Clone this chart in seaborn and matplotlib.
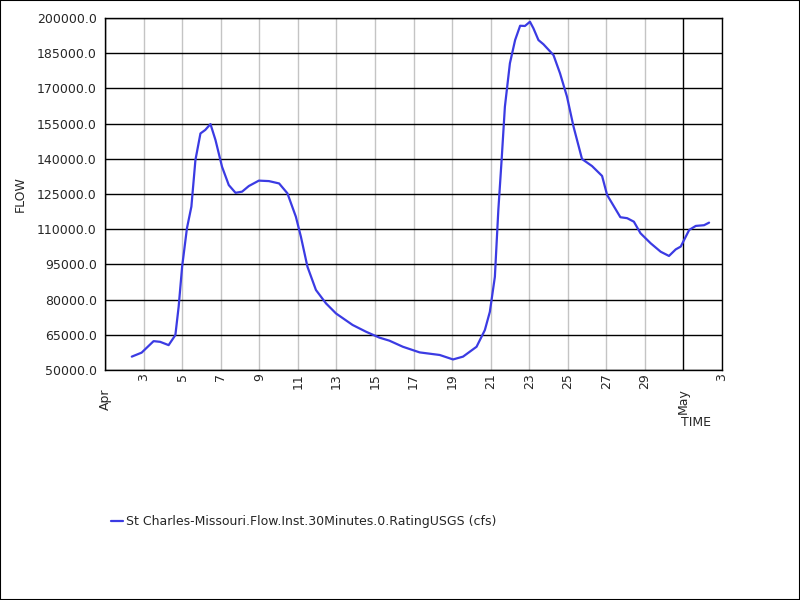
import pandas as pd
import seaborn as sns
import matplotlib
import matplotlib.pyplot as plt
from matplotlib.patches import Rectangle
from matplotlib.ticker import FuncFormatter

matplotlib.use("Agg")

START = "2011-04-01"
SERIES_NAME = "St Charles-Missouri.Flow.Inst.30Minutes.0.RatingUSGS (cfs)"
FONT_SIZE = 9

# days after Apr 1 00:00
day_offset = [1.39, 1.9, 2.52, 2.86, 3.3, 3.65, 3.82, 4.0, 4.25, 4.48, 4.69, 4.95,
              5.2, 5.47, 5.73, 6.07, 6.42, 6.77, 7.11, 7.46, 7.98, 8.5, 9.03, 9.46,
              9.9, 10.16, 10.5, 10.94, 11.46, 11.98, 12.84, 13.54, 14.23, 14.75,
              15.45, 16.32, 17.36, 18.05, 18.57, 18.92, 19.27, 19.7, 19.96, 20.22,
              20.4, 20.57, 20.74, 21.0, 21.27, 21.53, 21.78, 22.04, 22.22, 22.48,
              22.74, 23.26, 23.6, 23.96, 24.3, 24.74, 25.26, 25.78, 26.04, 26.73,
              27.08, 27.43, 27.77, 28.3, 28.82, 29.25, 29.6, 29.86, 30.12, 30.3,
              30.64, 31.07, 31.33]
flow = [55700, 57400, 62300, 62000, 60600, 64900, 77000, 94000, 110400, 119600,
        139500, 150800, 152300, 154800, 148000, 136600, 128800, 125500, 126000,
        128400, 130700, 130500, 129500, 125300, 115300, 106800, 94000, 84100,
        78400, 74100, 69200, 66300, 63800, 62500, 59900, 57500, 56400, 54500,
        55700, 57800, 59900, 67000, 74800, 89700, 118200, 139500, 162200, 180700,
        190600, 196700, 196600, 198400, 195600, 190600, 188800, 184200, 176400,
        166500, 153700, 139900, 136900, 132700, 124600, 115100, 114700, 113200,
        108300, 104000, 100400, 98600, 101400, 102600, 106800, 109700, 111400,
        111700, 112800]

y_ticks = list(range(50000, 200001, 15000))
day_ticks = ["2011-04-03", "2011-04-05", "2011-04-07", "2011-04-09", "2011-04-11",
             "2011-04-13", "2011-04-15", "2011-04-17", "2011-04-19", "2011-04-21",
             "2011-04-23", "2011-04-25", "2011-04-27", "2011-04-29", "2011-05-03"]
month_ticks = ["2011-04-01", "2011-05-01"]
month_labels = ["Apr", "May"]


def get_df():
    df = pd.DataFrame({"offset": day_offset, "flow": flow})
    df["time"] = pd.Timestamp(START) + pd.to_timedelta(df["offset"], unit="D")
    return df


def plot_graph(df):
    sns.set_style("white")
    plt.rcParams["font.family"] = ["DejaVu Sans"]
    fig = plt.figure(figsize=(8, 6), dpi=100)
    ax = fig.add_axes([105 / 800, 1 - 370 / 600, 617 / 800, 352 / 600])

    sns.lineplot(data=df, x="time", y="flow", ax=ax, color="#3b3be3",
                 linewidth=1.6, label=SERIES_NAME, legend=False)

    ax.set_xlim(pd.Timestamp("2011-04-01"), pd.Timestamp("2011-05-03"))
    ax.set_ylim(50000, 200000)
    ax.set_yticks(y_ticks)
    ax.yaxis.set_major_formatter(FuncFormatter(lambda v, p: f"{v:.1f}"))

    days = pd.to_datetime(day_ticks)
    ax.set_xticks(days)
    ax.set_xticklabels([str(d.day) for d in days], rotation=90)
    months = pd.to_datetime(month_ticks)
    ax.set_xticks(months, minor=True)
    ax.set_xticklabels(month_labels, minor=True, rotation=90)

    ax.tick_params(axis="x", which="major", length=0, pad=2, labelsize=FONT_SIZE)
    ax.tick_params(axis="x", which="minor", length=12.5, width=1, color="black",
                   pad=0.5, labelsize=FONT_SIZE)
    ax.tick_params(axis="y", length=5, width=1, color="black", pad=1,
                   labelsize=FONT_SIZE)
    ax.xaxis.get_minor_ticks()[0].tick1line.set_visible(False)

    ax.grid(axis="y", color="black", linewidth=1)
    ax.grid(axis="x", which="major", color="#c4c4c4", linewidth=1)
    ax.grid(axis="x", which="minor", color="black", linewidth=1)
    ax.set_axisbelow(True)
    for s in ax.spines.values():
        s.set_color("black")
        s.set_linewidth(1)

    ax.set_xlabel("")
    ax.set_ylabel("")
    fig.text(20 / 800, 1 - 194 / 600, "FLOW", rotation=90, ha="center",
             va="center", fontsize=FONT_SIZE)
    fig.text(681 / 800, 1 - 423 / 600, "TIME", ha="left", va="center",
             fontsize=FONT_SIZE)

    handles, labels = ax.get_legend_handles_labels()
    fig.legend(handles, labels, loc="center left",
               bbox_to_anchor=(100 / 800, 1 - 522 / 600), frameon=False,
               handlelength=0.9, handletextpad=0.3, fontsize=FONT_SIZE)

    fig.patches.append(Rectangle((0, 0), 1, 1, transform=fig.transFigure,
                                 fill=False, edgecolor="black", linewidth=1.5))
    fig.savefig("out.png", dpi=100)


def main():
    plot_graph(get_df())


if __name__ == "__main__":
    main()
